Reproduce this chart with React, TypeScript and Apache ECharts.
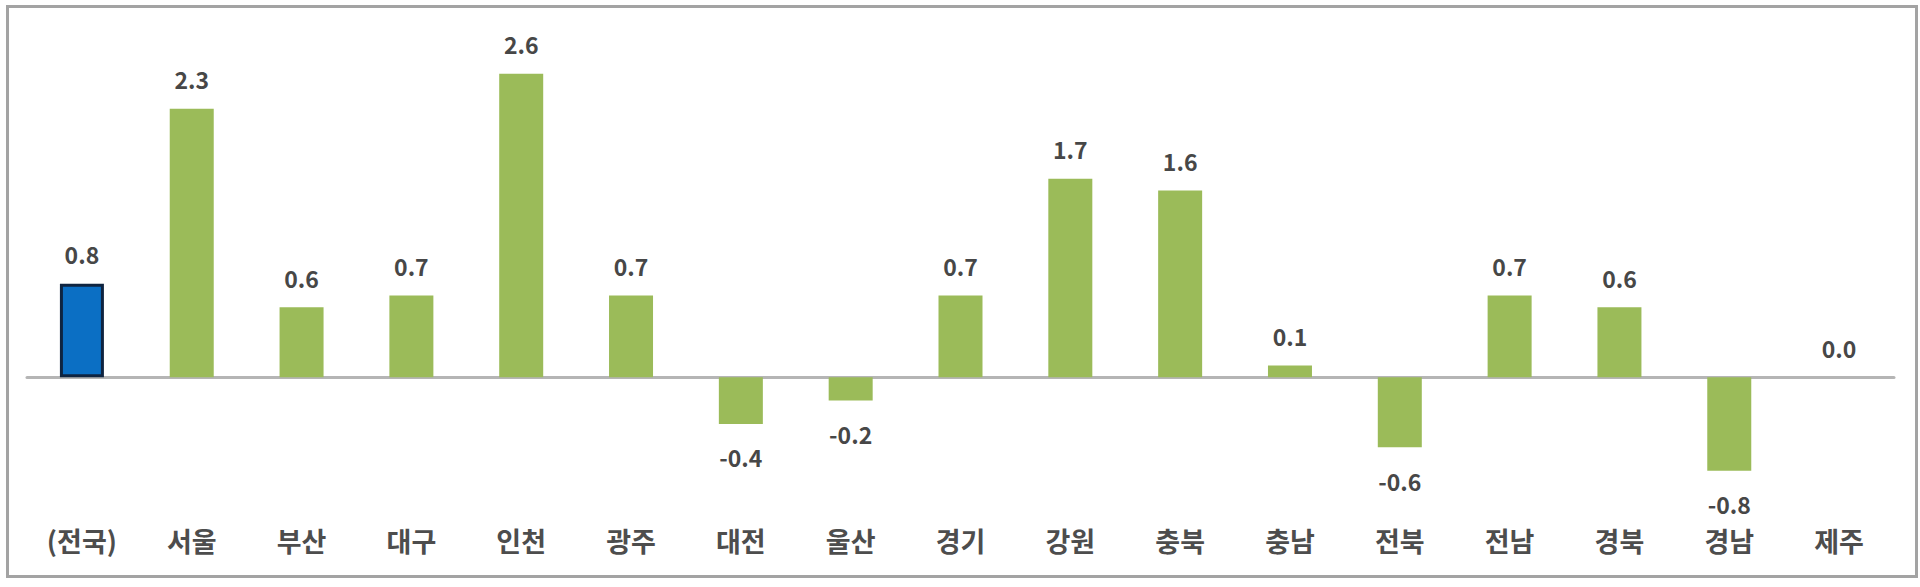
import { useEffect, useRef } from "react";
import * as echarts from "echarts";

const regions = [
  "(전국)", "서울", "부산", "대구", "인천", "광주", "대전", "울산",
  "경기", "강원", "충북", "충남", "전북", "전남", "경북", "경남", "제주",
];

const changes = [
  0.8, 2.3, 0.6, 0.7, 2.6, 0.7, -0.4, -0.2,
  0.7, 1.7, 1.6, 0.1, -0.6, 0.7, 0.6, -0.8, 0.0,
];

const GREEN = "#9bbb59";
const BLUE = "#0b6fc4";
const TEXT = "#474747";
const FONT = "'Noto Sans CJK KR', 'Noto Sans', sans-serif";

export default function App() {
  const chartRef = useRef<HTMLDivElement>(null);

  useEffect(() => {
    if (!chartRef.current) return;
    document.body.style.margin = "0";

    const chart = echarts.init(chartRef.current, null, { renderer: "svg" });

    // 첫 항목(전국)만 파란 막대
    const seriesData = changes.map((v, i) => ({
      value: v,
      itemStyle:
        i === 0
          ? { color: BLUE, borderColor: "#0f2440", borderWidth: 3 }
          : { color: GREEN },
      label: v < 0
        ? { position: "bottom", distance: 22 }
        : { position: "top", distance: 18 },
    }));

    const option: echarts.EChartsOption = {
      animation: false,
      backgroundColor: "#ffffff",
      grid: { left: 27, right: 26, top: 27, bottom: 93 },
      graphic: [
        {
          type: "rect",
          left: 5,
          top: 4,
          shape: { width: 1909, height: 570 },
          style: { fill: "none", stroke: "#a3a3a3", lineWidth: 3 },
          silent: true,
          z: 100,
        },
      ],
      xAxis: [
        {
          // 0 기준선
          type: "category",
          data: regions,
          axisTick: { show: false },
          axisLine: {
            show: true,
            onZero: true,
            lineStyle: { color: "#b5b5b5", width: 3 },
          },
          axisLabel: { show: false },
        },
        {
          // 지역명
          type: "category",
          data: regions,
          position: "bottom",
          axisTick: { show: false },
          axisLine: { show: false, onZero: false },
          axisLabel: {
            margin: 33,
            color: "#4d4d4d",
            fontFamily: FONT,
            fontSize: 27,
            fontWeight: "bold",
            interval: 0,
          },
        },
      ],
      yAxis: [
        {
          type: "value",
          min: -1,
          max: 3,
          show: false,
          splitLine: { show: false },
        },
      ],
      series: [
        {
          type: "bar",
          data: seriesData,
          barWidth: 44,
          label: {
            show: true,
            color: TEXT,
            fontFamily: FONT,
            fontSize: 23,
            fontWeight: "bold",
            formatter: (p: any) => Number(p.value).toFixed(1),
          },
        },
      ],
    };

    chart.setOption(option);

    return () => {
      chart.dispose();
    };
  }, []);

  return <div ref={chartRef} style={{ width: 1920, height: 587 }} />;
}
